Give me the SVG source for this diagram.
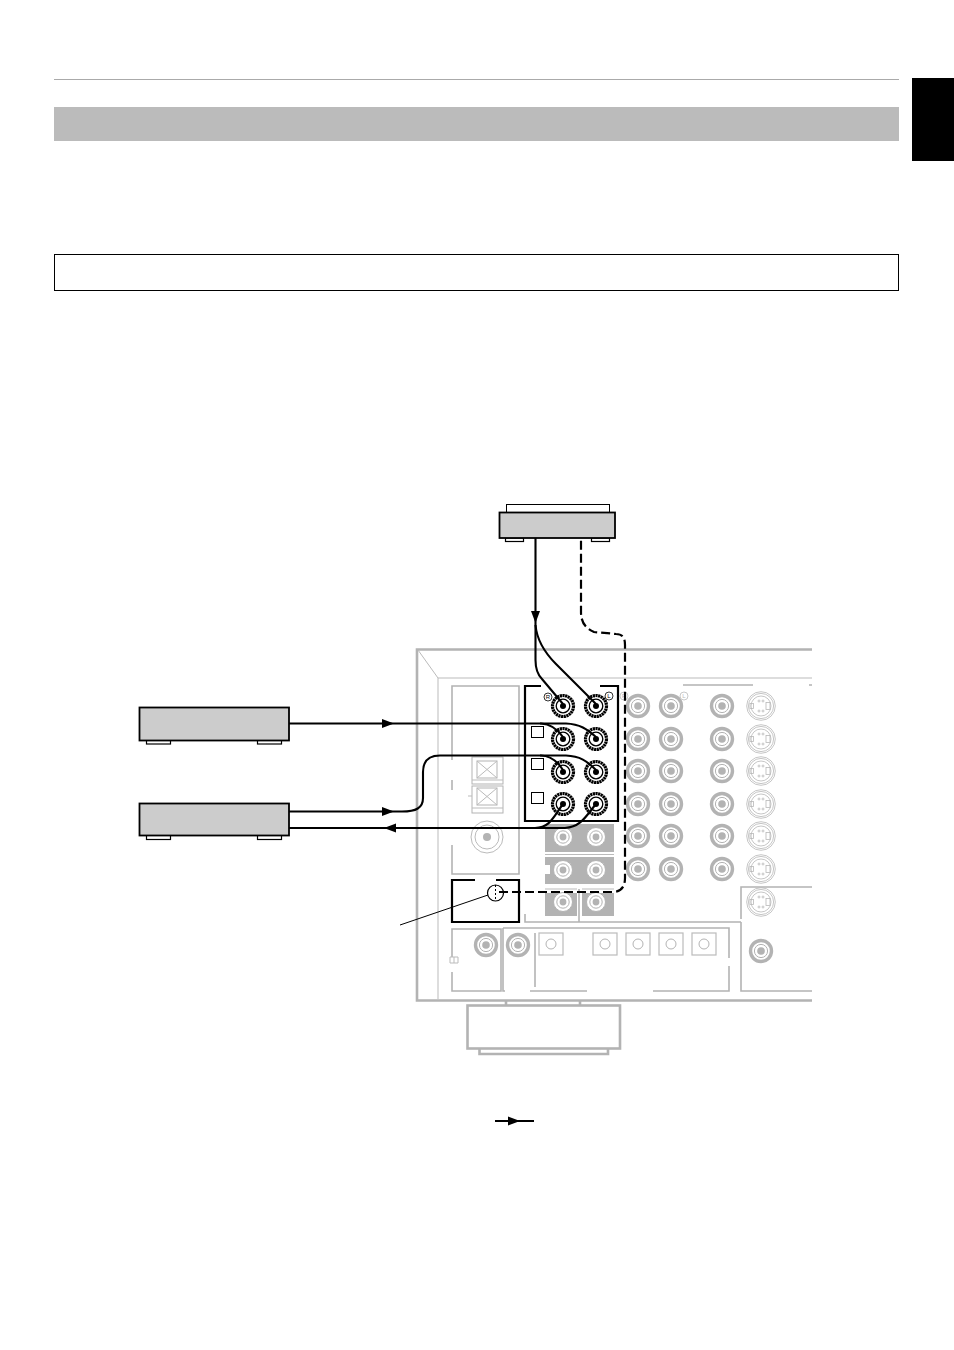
<svg xmlns="http://www.w3.org/2000/svg" width="954" height="1350" viewBox="0 0 954 1350">
<style>
.g3{fill:none;stroke:#b3b3b3;stroke-width:2.6}
.g2{fill:none;stroke:#b3b3b3;stroke-width:1.6}
.g1{fill:none;stroke:#bbb;stroke-width:1}
.blk{fill:none;stroke:#000;stroke-width:2.2}
.wire{fill:none;stroke:#000;stroke-width:2.1}
.dash{fill:none;stroke:#000;stroke-width:2.2;stroke-dasharray:9 4}
.unit{fill:#ccc;stroke:#000;stroke-width:1.8}
.foot{fill:#fff;stroke:#000;stroke-width:1.2}
.pan{fill:#b3b3b3}
.lb{font-family:"Liberation Sans",Arial,sans-serif;font-size:6px;text-anchor:middle}
</style>
<defs>
<g id="jk">
<circle r="10.500" fill="#fff" stroke="#b3b3b3" stroke-width="3.400"/>
<circle r="6.600" fill="#fff" stroke="#b3b3b3" stroke-width="1"/>
<circle r="3.800" fill="#b3b3b3"/>
</g>
<g id="jb">
<circle r="10.500" fill="#fff" stroke="#000" stroke-width="3.200" stroke-dasharray="2.200 .5"/>
<circle r="6.800" fill="#fff" stroke="#000" stroke-width="1.300"/>
<circle r="3" fill="#000"/>
</g>
<g id="jp">
<circle r="9.500" fill="#fff" stroke="#b3b3b3" stroke-width="1"/>
<circle r="6.200" fill="#fff" stroke="#b3b3b3" stroke-width="1"/>
<circle r="3.400" fill="#b3b3b3"/>
</g>
<g id="sv" fill="none" stroke="#b8b8b8" stroke-width=".8">
<circle r="14.300"/><circle r="12.600"/><circle r="10"/>
<rect x="-11" y="-2.500" width="3.500" height="5"/><rect x="5" y="-3.500" width="4" height="7"/>
<circle cx="-2" cy="-5" r="1"/><circle cx="2" cy="-5" r="1"/><circle cx="-2" cy="5" r="1"/><circle cx="2" cy="5" r="1"/>
</g>
<g id="sq"><rect x="-12" y="-11" width="24" height="22" fill="#fff" stroke="#bbb" stroke-width="1.200"/><circle r="5" fill="#fff" stroke="#aaa" stroke-width=".9"/></g>
<path id="ah" d="M-6-4.500L6 0L-6 4.500Z" fill="#000"/>
</defs>
<rect width="954" height="1350" fill="#fff"/>
<g id="page-header">
<rect x="54" y="79" width="845" height="1" fill="#aaa"/>
<rect x="54" y="107" width="845" height="34" fill="#bbb"/>
<rect x="912" y="78" width="42" height="83" fill="#000"/>
<rect x="54.500" y="254.500" width="844" height="36" fill="#fff" stroke="#000" stroke-width="1"/>
</g>
<g id="receiver">
<path class="g3" d="M812 649.500H417V1000.500H812"/>
<path class="g1" d="M418 650L438 678H812M438 678V999"/>
<path class="g2" d="M683 685H753M809 685H812"/>
<path class="g2" d="M452 760V686H519V874H452V845M452 780V790"/>
<rect x="472" y="757" width="31" height="27" fill="#fff" stroke="#b3b3b3" stroke-width="1"/>
<rect x="477" y="761" width="20" height="17" fill="none" stroke="#b3b3b3" stroke-width="1"/>
<path class="g1" d="M477 761L497 778M497 761L477 778M472 780H503"/>
<rect x="472" y="786" width="31" height="27" fill="#fff" stroke="#b3b3b3" stroke-width="1"/>
<rect x="477" y="788" width="20" height="17" fill="none" stroke="#b3b3b3" stroke-width="1"/>
<path class="g1" d="M477 788L497 805M497 788L477 805M472 808H503M468 796H472"/>
<circle cx="487" cy="837" r="16" fill="#fff" stroke="#bbb" stroke-width="1"/><circle cx="487" cy="837" r="12" fill="none" stroke="#bbb" stroke-width="1"/><circle cx="487" cy="837" r="4" fill="#b3b3b3"/>
<rect class="pan" x="545" y="824" width="69" height="28"/>
<rect class="pan" x="545" y="857" width="69" height="27"/>
<rect x="544" y="865" width="6" height="9" fill="#fff"/>
<rect class="pan" x="545" y="893" width="32" height="23"/>
<rect class="pan" x="582" y="893" width="32" height="23"/>
<path class="g1" d="M545 854.500H614M545 889H577M582 889H614"/>
<path class="g2" d="M525 914V922H741M579 889V922"/>
<use href="#jp" x="563" y="837"/><use href="#jp" x="596" y="837"/>
<use href="#jp" x="563" y="870"/><use href="#jp" x="596" y="870"/>
<use href="#jp" x="563" y="902"/><use href="#jp" x="596" y="902"/>
<path class="g2" d="M452 957V929H501V991H452V972"/>
<path class="g1" d="M450 957H458V963H450ZM454 957V963"/>
<path class="g2" d="M503 928H729V958M729 966V991H653M587 991H530M503 928V991H505M535 933V987"/>
<use href="#jk" x="486" y="945"/><use href="#jk" x="518" y="945"/>
<use href="#sq" x="551" y="944"/><use href="#sq" x="605" y="944"/><use href="#sq" x="638" y="944"/><use href="#sq" x="671" y="944"/><use href="#sq" x="704" y="944"/>
<path class="g2" d="M812 887H741V919M741 922V991H812"/>
<use href="#jk" x="761" y="951"/>
<use href="#jk" x="638" y="706"/><use href="#jk" x="671" y="706"/><use href="#jk" x="722" y="706"/>
<use href="#jk" x="638" y="739"/><use href="#jk" x="671" y="739"/><use href="#jk" x="722" y="739"/>
<use href="#jk" x="638" y="771"/><use href="#jk" x="671" y="771"/><use href="#jk" x="722" y="771"/>
<use href="#jk" x="638" y="804"/><use href="#jk" x="671" y="804"/><use href="#jk" x="722" y="804"/>
<use href="#jk" x="638" y="836"/><use href="#jk" x="671" y="836"/><use href="#jk" x="722" y="836"/>
<use href="#jk" x="638" y="869"/><use href="#jk" x="671" y="869"/><use href="#jk" x="722" y="869"/>
<use href="#sv" x="761" y="706"/><use href="#sv" x="761" y="739"/><use href="#sv" x="761" y="771"/><use href="#sv" x="761" y="804"/><use href="#sv" x="761" y="836"/><use href="#sv" x="761" y="869"/><use href="#sv" x="761" y="902"/>
<circle cx="624" cy="696" r="4" fill="#fff" stroke="#bbb" stroke-width=".8"/>
<circle cx="684" cy="696" r="4" fill="#fff" stroke="#bbb" stroke-width=".8"/>
<text class="lb" x="624" y="698" fill="#bbb">R</text>
<text class="lb" x="684" y="698" fill="#bbb">L</text>
</g>
<g id="tape-box">
<path class="blk" d="M600 686H618V821H525V686H541"/>
<rect x="531.500" y="726.500" width="12" height="11" fill="#fff" stroke="#000" stroke-width="1"/>
<rect x="531.500" y="758.500" width="12" height="11" fill="#fff" stroke="#000" stroke-width="1"/>
<rect x="531.500" y="792.500" width="12" height="11" fill="#fff" stroke="#000" stroke-width="1"/>
<use href="#jb" x="563" y="706"/><use href="#jb" x="596" y="706"/>
<use href="#jb" x="563" y="739"/><use href="#jb" x="596" y="739"/>
<use href="#jb" x="563" y="772"/><use href="#jb" x="596" y="772"/>
<use href="#jb" x="563" y="804"/><use href="#jb" x="596" y="804"/>
<circle cx="548" cy="697" r="4" fill="#fff" stroke="#000" stroke-width=".8"/>
<circle cx="609" cy="696" r="4" fill="#fff" stroke="#000" stroke-width=".8"/>
<text class="lb" x="548" y="699">R</text>
<text class="lb" x="609" y="698">L</text>
</g>
<g id="ground-box">
<path class="blk" d="M475 880H452V922H519V880H496"/>
<circle cx="495.500" cy="893" r="8" fill="#fff" stroke="#000" stroke-width="1.200"/>
<path d="M495.500 885V901" stroke="#000" stroke-width="1" stroke-dasharray="2 2"/>
</g>
<g id="device-top">
<rect x="506.500" y="504.500" width="103" height="8" fill="#fff" stroke="#000" stroke-width="1"/>
<rect class="foot" x="505.500" y="538" width="18" height="3.500"/>
<rect class="foot" x="591.500" y="538" width="18" height="3.500"/>
<rect class="unit" x="499.500" y="512.500" width="115.500" height="25.500"/>
</g>
<g id="device-vcr1">
<rect class="foot" x="146.500" y="740" width="24" height="4"/>
<rect class="foot" x="257.500" y="740" width="24" height="4"/>
<rect class="unit" x="139.500" y="707.500" width="149.500" height="33"/>
</g>
<g id="device-vcr2">
<rect class="foot" x="146.500" y="835" width="24" height="4.500"/>
<rect class="foot" x="257.500" y="835" width="24" height="4.500"/>
<rect class="unit" x="139.500" y="803.500" width="149.500" height="32"/>
</g>
<g id="device-bottom">
<path class="g3" d="M506 1001V1006M580 1001V1006"/>
<rect x="467.500" y="1005.500" width="152.500" height="43" fill="#fff" stroke="#b3b3b3" stroke-width="2.600"/>
<path class="g3" d="M479.500 1049V1054H608V1049"/>
</g>
<g id="connectors">
<path class="wire" d="M535.500 538V660C535.500 668 537 674 542 679L563 704"/>
<path class="wire" d="M535.500 625C537 642 546 654 556 664L596 704"/>
<path class="wire" d="M289 723.500H541C552 724 558 730 563 737"/>
<path class="wire" d="M540 723.500H566C580 724 587 729 596 737"/>
<path class="wire" d="M289 811.500H402C416 811.500 423 808 423 798V772C423 762 428 755.500 440 755.500H541C552 756 558 762 563 770"/>
<path class="wire" d="M540 755.500H566C580 756 587 761 596 770"/>
<path class="wire" d="M289 828H535C550 828 554 816 563 804"/>
<path class="wire" d="M530 828H565C581 827 586 816 596 804"/>
<path fill="none" stroke="#000" stroke-width="1" d="M400 925L488 895"/>
<path class="dash" d="M499 892H612C621 892 625 887 625 878V645C625 637 622 634 616 634L594 632C585 628 581 622 581 612V538"/>
<use href="#ah" transform="translate(388 723.500)"/>
<use href="#ah" transform="translate(388 811.500)"/>
<use href="#ah" transform="translate(390 828) rotate(180)"/>
<use href="#ah" transform="translate(535.500 617) rotate(90)"/>
</g>
<g id="legend-arrow">
<path class="wire" d="M495 1121H534"/>
<use href="#ah" transform="translate(514 1121)"/>
</g>
</svg>
